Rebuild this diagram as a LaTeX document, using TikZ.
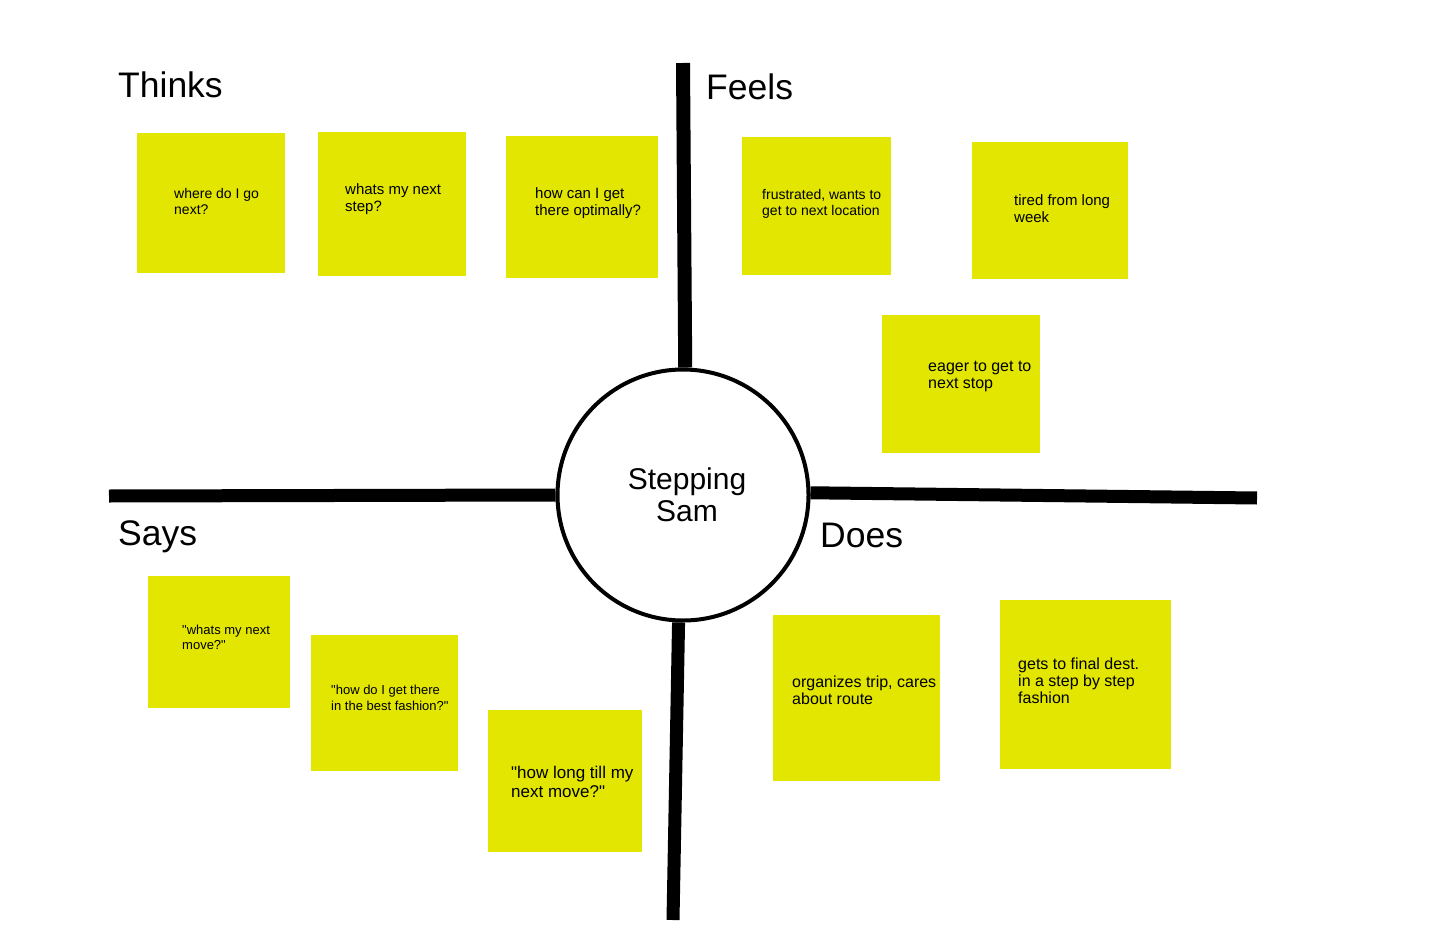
\documentclass[tikz,border=0pt]{standalone}
\usepackage{fontspec}
\setmainfont{Liberation Sans}[Ligatures=TeXOff]
\definecolor{notey}{RGB}{226,230,0}
\tikzset{
  note/.style={fill=notey, draw=none, inner sep=0, anchor=north west},
  notetext/.style={anchor=north west, inner sep=0, align=left},
  heading/.style={anchor=base west, inner sep=0, font=\fontsize{35.5}{40}\selectfont},
  axis/.style={line width=13, line cap=butt, black},
}
\newcommand{\fs}[2]{\fontsize{#1}{#2}\selectfont}
\begin{document}
\begin{tikzpicture}[x=1pt,y=-1pt]
\useasboundingbox[fill=white] (0,0) rectangle (1456,944);

% centre
\node[draw, circle, line width=4, minimum size=251, inner sep=0] (sam) at (683,495) {};
\node[align=center, inner sep=0, font=\fs{30}{32}] (samtext) at (687,495) {Stepping\\Sam};

% axes
\coordinate (topend) at (683,63);
\coordinate (leftend) at (109,496);
\coordinate (rightend) at (1257,498);
\coordinate (botend) at (673,920);
\draw[axis, line width=14] (topend) -- (sam.89);
\draw[axis] (leftend) -- (sam.west);
\draw[axis] (sam.1) -- (rightend);
\draw[axis] (sam.268) -- (botend);

% headings
\node[heading] (thinks) at (118,98) {Thinks};
\node[heading] (feels) at (706,100) {Feels};
\node[heading] (says) at (118,545) {Says};
\node[heading] (does) at (820,547) {Does};

% Thinks notes
\node[note, minimum width=148, minimum height=140] (n1) at (137,133) {};
\node[notetext, font=\fs{14}{16}] (t1) at (174,188) {where do I go\\next?};
\node[note, minimum width=148, minimum height=144] (n2) at (318,132) {};
\node[notetext, font=\fs{15}{17}] (t2) at (345,183) {whats my next\\step?};
\node[note, minimum width=152, minimum height=142] (n3) at (506,136) {};
\node[notetext, font=\fs{15}{17}] (t3) at (535,187) {how can I get\\there optimally?};

% Feels notes
\node[note, minimum width=149, minimum height=138] (n4) at (742,137) {};
\node[notetext, font=\fs{14}{16}] (t4) at (762,189) {frustrated, wants to\\get to next location};
\node[note, minimum width=156, minimum height=137] (n5) at (972,142) {};
\node[notetext, font=\fs{15}{17}] (t5) at (1014,194) {tired from long\\week};
\node[note, minimum width=158, minimum height=138] (n6) at (882,315) {};
\node[notetext, font=\fs{16}{17}] (t6) at (928,361) {eager to get to\\next stop};

% Says notes
\node[note, minimum width=142, minimum height=132] (n7) at (148,576) {};
\node[notetext, font=\fs{13}{15}] (t7) at (182,625) {"whats my next\\move?"};
\node[note, minimum width=147, minimum height=136] (n8) at (311,635) {};
\node[notetext, font=\fs{13}{16}] (t8) at (331,685) {"how do I get there\\in the best fashion?"};
\node[note, minimum width=154, minimum height=142] (n9) at (488,710) {};
\node[notetext, font=\fs{17}{19}] (t9) at (511,766) {"how long till my\\next move?"};

% Does notes
\node[note, minimum width=167, minimum height=166] (n10) at (773,615) {};
\node[notetext, font=\fs{16}{17}] (t10) at (792,676) {organizes trip, cares\\about route};
\node[note, minimum width=171, minimum height=169] (n11) at (1000,600) {};
\node[notetext, font=\fs{16}{17}] (t11) at (1018,658) {gets to final dest.\\in a step by step\\fashion};
\end{tikzpicture}
\end{document}
